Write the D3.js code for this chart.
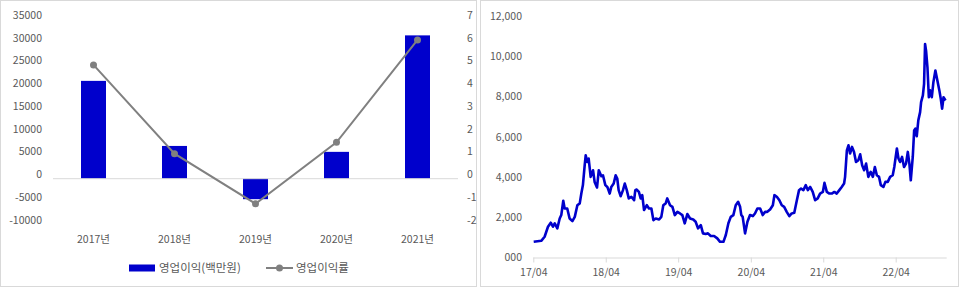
<!doctype html>
<html>
<head>
<meta charset="utf-8">
<script src="https://d3js.org/d3.v7.min.js"></script>
<style>
  body { margin: 0; background: #fff; }
  text { font-family: "Noto Sans CJK KR", "Noto Sans", sans-serif; fill: #595959; }
</style>
</head>
<body>
<script>
// ---- left chart data ----
var years = ["2017년", "2018년", "2019년", "2020년", "2021년"];
var opProfit = [21500, 7200, -4500, 5900, 31500];     // 영업이익(백만원)
var opMargin = [5.0, 1.1, -1.1, 1.6, 6.1];            // 영업이익률
var leftTicks = [-10000, -5000, 0, 5000, 10000, 15000, 20000, 25000, 30000, 35000];
var rightTicks = [-2, -1, 0, 1, 2, 3, 4, 5, 6, 7];

// ---- right chart data (stock price) ----
var priceDates = [
  "2017-04-03","2017-05-11","2017-05-28","2017-06-14","2017-06-28","2017-07-09","2017-07-18","2017-07-31",
  "2017-08-12","2017-08-20","2017-08-30","2017-09-06","2017-09-19","2017-10-01","2017-10-15","2017-10-27",
  "2017-11-09","2017-11-21","2017-11-29","2017-12-07","2017-12-16","2017-12-21","2017-12-29","2018-01-05",
  "2018-01-15","2018-01-27","2018-02-04","2018-02-16","2018-02-25","2018-03-10","2018-03-18","2018-03-30",
  "2018-04-09","2018-04-21","2018-04-29","2018-05-11","2018-05-21","2018-05-29","2018-06-05","2018-06-15",
  "2018-06-27","2018-07-06","2018-07-16","2018-07-26","2018-08-08","2018-08-22","2018-08-28","2018-09-04",
  "2018-09-15","2018-09-24","2018-10-02","2018-10-11","2018-10-25","2018-11-05","2018-11-17","2018-11-27",
  "2018-12-09","2018-12-26","2019-01-06","2019-01-16","2019-01-28","2019-02-05","2019-02-19","2019-03-03",
  "2019-03-15","2019-03-28","2019-04-10","2019-04-22","2019-05-04","2019-05-17","2019-05-31","2019-06-16",
  "2019-06-28","2019-07-10","2019-07-24","2019-08-04","2019-08-18","2019-08-29","2019-09-12","2019-09-29",
  "2019-10-15","2019-10-29","2019-11-15","2019-11-27","2019-12-10","2019-12-22","2020-01-04","2020-01-16",
  "2020-01-28","2020-02-07","2020-02-13","2020-02-20","2020-03-03","2020-03-15","2020-03-28","2020-04-11",
  "2020-04-22","2020-05-04","2020-05-18","2020-05-31","2020-06-12","2020-06-23","2020-07-07","2020-07-21",
  "2020-07-29","2020-08-10","2020-08-23","2020-09-04","2020-09-16","2020-09-29","2020-10-12","2020-10-24",
  "2020-11-06","2020-11-19","2020-11-30","2020-12-10","2020-12-22","2021-01-03","2021-01-13","2021-01-25",
  "2021-02-07","2021-02-19","2021-03-04","2021-03-16","2021-03-30","2021-04-07","2021-04-19","2021-05-02",
  "2021-05-14","2021-05-27","2021-06-08","2021-06-21","2021-07-03","2021-07-15","2021-07-20","2021-07-29",
  "2021-08-06","2021-08-14","2021-08-24","2021-09-03","2021-09-13","2021-09-25","2021-10-04","2021-10-14",
  "2021-10-24","2021-11-03","2021-11-14","2021-11-26","2021-12-07","2021-12-17","2021-12-27","2022-01-07",
  "2022-01-16","2022-01-29","2022-02-08","2022-02-20","2022-03-04","2022-03-17","2022-03-25","2022-04-07",
  "2022-04-15","2022-04-23","2022-05-03","2022-05-13","2022-05-23","2022-06-01","2022-06-09","2022-06-16",
  "2022-06-26","2022-07-03","2022-07-09","2022-07-16","2022-07-24","2022-08-02","2022-08-07","2022-08-16",
  "2022-08-22","2022-08-27","2022-09-01","2022-09-08","2022-09-15","2022-09-21","2022-09-30","2022-10-08",
  "2022-10-18","2022-10-28","2022-11-07","2022-11-14","2022-11-21","2022-11-28","2022-12-08"
];
var priceValues = [
  780, 830, 1030, 1530, 1730, 1530, 1700, 1450,
  1940, 2110, 2820, 2440, 2440, 1940, 1810, 2020,
  2600, 2690, 3180, 3600, 4590, 5080, 4750, 4920,
  4010, 4340, 3760, 3480, 4340, 4040, 4090, 3600,
  3510, 3180, 3510, 3680, 4090, 3930, 3350, 3050,
  3350, 3680, 3350, 2940, 3020, 2850, 3350, 3380,
  3260, 2940, 3100, 2360, 2600, 2440, 2440, 1860,
  1940, 1890, 2020, 2600, 2690, 2940, 2600, 2520,
  2110, 2270, 2190, 2110, 1700, 2160, 1940, 1890,
  1780, 1450, 1610, 1200, 1170, 1200, 1070, 1070,
  950, 780, 780, 1120, 1700, 2020, 2110, 2600,
  2770, 2520, 2110, 2020, 1200, 1780, 2110, 2060,
  2190, 2440, 2440, 2110, 2270, 2270, 2390, 2600,
  3100, 3020, 2850, 2600, 2520, 2270, 2060, 2190,
  2220, 2850, 3350, 3430, 3350, 3600, 3350, 3510,
  3260, 2850, 2940, 3180, 3260, 3710, 3260, 3180,
  3180, 3260, 3180, 3350, 3510, 3680, 4010, 5330,
  5580, 5170, 5500, 5250, 4750, 4840, 5130, 4590,
  4340, 4670, 4010, 4260, 4010, 4500, 4090, 4010,
  3600, 3510, 3760, 3760, 4010, 4090, 4500, 5420,
  4920, 4750, 5000, 4500, 4670, 5250, 4670, 3840,
  5000, 6320, 6410, 6030, 6820, 7230, 7730, 8060,
  8640, 10620, 10290, 9460, 7970, 8310, 7970, 8720,
  9300, 8800, 8310, 7900, 7400, 7970, 7810
];
var priceTicks = [0, 2000, 4000, 6000, 8000, 10000, 12000];
var dateTicks = ["2017-04-01", "2018-04-01", "2019-04-01", "2020-04-01", "2021-04-01", "2022-04-01"];

var svg = d3.select("body").append("svg")
  .attr("width", 960)
  .attr("height", 288);

// panel frames
svg.append("rect").attr("x", 0.5).attr("y", 0.5).attr("width", 476).attr("height", 286)
  .attr("fill", "none").attr("stroke", "#d9d9d9");
svg.append("rect").attr("x", 480.5).attr("y", 0.5).attr("width", 478).attr("height", 286)
  .attr("fill", "none").attr("stroke", "#d9d9d9");

// ================= left: bars + margin line =================
var x = d3.scaleBand().domain(years).range([53, 458]).padding(0);
var yL = d3.scaleLinear().domain([-10000, 35000]).range([224.2, 19.45]);
var yR = d3.scaleLinear().domain([-2, 7]).range([224.2, 19.45]);
var barW = 25;

var left = svg.append("g");

// y axes (labels only), plain hyphen for negatives like the source
var axL = left.append("g").attr("transform", "translate(42,0)")
  .call(d3.axisLeft(yL).tickValues(leftTicks).tickSize(0).tickPadding(0).tickFormat(d => String(d)));
var axR = left.append("g").attr("transform", "translate(467,0)")
  .call(d3.axisRight(yR).tickValues(rightTicks).tickSize(0).tickPadding(0).tickFormat(d => String(d)));
[axL, axR].forEach(function (g) {
  g.select(".domain").remove();
  g.selectAll("text").attr("font-size", 10.5).attr("dy", "-0.1em").style("font-family", null);
});

// bars
left.selectAll(".bar").data(opProfit).join("rect")
  .attr("class", "bar")
  .attr("x", (d, i) => x(years[i]) + x.bandwidth() / 2 - barW / 2)
  .attr("width", barW)
  .attr("y", d => yL(Math.max(0, d)))
  .attr("height", d => Math.abs(yL(d) - yL(0)))
  .attr("fill", "#0000cc");

// zero line
left.append("line")
  .attr("x1", 53).attr("x2", 458)
  .attr("y1", yL(0)).attr("y2", yL(0))
  .attr("stroke", "#d9d9d9").attr("stroke-width", 1);

// category labels
left.append("g").attr("transform", "translate(0,239)")
  .call(d3.axisBottom(x).tickSize(0).tickPadding(0))
  .call(g => g.select(".domain").remove())
  .selectAll("text").attr("font-size", 10.5).attr("dy", "0.35em").style("font-family", null);

// margin line
var marginLine = d3.line()
  .x((d, i) => x(years[i]) + x.bandwidth() / 2)
  .y(d => yR(d));
left.append("path").datum(opMargin)
  .attr("d", marginLine)
  .attr("fill", "none").attr("stroke", "#808080").attr("stroke-width", 2);
left.selectAll(".dot").data(opMargin).join("circle")
  .attr("class", "dot")
  .attr("cx", (d, i) => x(years[i]) + x.bandwidth() / 2)
  .attr("cy", d => yR(d))
  .attr("r", 3.5).attr("fill", "#808080");

// legend
var lg = left.append("g").attr("transform", "translate(0,268)");
lg.append("rect").attr("x", 129).attr("y", -3.5).attr("width", 26).attr("height", 7).attr("fill", "#0000cc");
lg.append("text").attr("x", 159).attr("dy", "0.35em").attr("font-size", 11.5).text("영업이익(백만원)");
lg.append("line").attr("x1", 266).attr("x2", 293).attr("stroke", "#808080").attr("stroke-width", 2);
lg.append("circle").attr("cx", 279.5).attr("r", 3.5).attr("fill", "#808080");
lg.append("text").attr("x", 296).attr("dy", "0.35em").attr("font-size", 11.5).text("영업이익률");

// ================= right: stock price =================
var parseDate = d3.timeParse("%Y-%m-%d");
var prices = priceDates.map((d, i) => ({ date: parseDate(d), value: priceValues[i] }));

var xT = d3.scaleTime()
  .domain([parseDate("2017-04-01"), parseDate("2022-12-14")])
  .range([533.3, 946.7]);
var yP = d3.scaleLinear().domain([0, 12000]).range([257.5, 16.2]);

var right = svg.append("g");

var axP = right.append("g").attr("transform", "translate(522,0)")
  .call(d3.axisLeft(yP).tickValues(priceTicks).tickSize(0).tickPadding(0)
    .tickFormat(d => d === 0 ? "000" : d3.format(",")(d)));
axP.select(".domain").remove();
axP.selectAll("text").attr("font-size", 10.5).attr("dy", "0.3em").style("font-family", null);

var axT = right.append("g").attr("transform", "translate(0," + yP(0) + ")")
  .call(d3.axisBottom(xT).tickValues(dateTicks.map(parseDate)).tickSize(5).tickPadding(6)
    .tickFormat(d3.timeFormat("%y/%m")));
axT.select(".domain").attr("stroke", "#d9d9d9").attr("d", "M533.3,0.5H946.7");
axT.selectAll(".tick line").attr("stroke", "#d9d9d9");
axT.selectAll("text").attr("font-size", 10.5).style("font-family", null);

right.append("path").datum(prices)
  .attr("d", d3.line().x(d => xT(d.date)).y(d => yP(d.value)))
  .attr("fill", "none")
  .attr("stroke", "#0000cc")
  .attr("stroke-width", 2.6)
  .attr("stroke-linejoin", "round");
</script>
</body>
</html>
